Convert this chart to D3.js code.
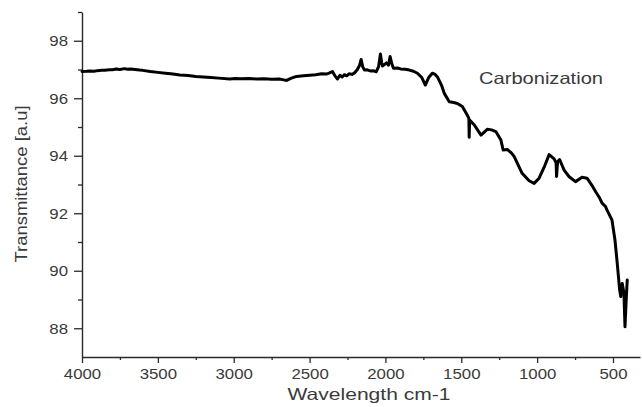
<!DOCTYPE html>
<html><head><meta charset="utf-8">
<script src="https://cdn.jsdelivr.net/npm/d3@7"></script>
<style>
html,body{margin:0;padding:0;background:#fff;}
svg{display:block;font-family:"Liberation Sans",Arial,Helvetica,sans-serif;}
</style></head>
<body>
<svg id="chart" width="642" height="407"></svg>
<script>
// Data
const wavenumber = [4000,3970,3950,3920,3900,3870,3850,3820,3800,3775,3750,3720,3700,3680,3650,3620,3600,3550,3500,3450,3400,3355,3300,3250,3200,3150,3100,3026,2990,2950,2900,2849,2800,2750,2700,2670,2651,2620,2586,2540,2500,2460,2420,2390,2368,2349,2330,2316,2300,2285,2270,2255,2240,2220,2204,2185,2170,2160,2150,2138,2120,2100,2080,2061,2045,2033,2025,2020,2005,1993,1980,1969,1958,1947,1920,1900,1870,1842,1815,1789,1760,1737,1715,1691,1675,1658,1630,1612,1579,1550,1526,1493,1461,1450,1448,1445,1414,1370,1329,1300,1272,1239,1224,1197,1170,1151,1099,1053,1020,987,950,921,888,875,872,865,852,822,789,747,704,671,640,614,590,572,550,539,507,487,472,456,449,439,428,421,412,406];
const transmittance = [96.93,96.94,96.95,96.94,96.96,96.97,96.97,96.99,96.99,97.02,97.00,97.03,97.01,97.02,97.00,96.98,96.97,96.93,96.90,96.87,96.84,96.81,96.79,96.76,96.74,96.72,96.70,96.67,96.69,96.68,96.69,96.67,96.68,96.66,96.67,96.64,96.62,96.70,96.76,96.78,96.80,96.82,96.85,96.84,96.88,96.93,96.76,96.67,96.80,96.74,96.82,96.78,96.85,96.83,96.88,97.00,97.15,97.35,97.10,96.98,96.99,96.95,96.96,96.92,97.10,97.54,97.25,97.12,97.18,97.23,97.15,97.45,97.20,97.04,97.05,97.02,97.01,96.98,96.94,96.87,96.72,96.46,96.72,96.87,96.84,96.75,96.45,96.17,95.88,95.85,95.82,95.71,95.42,95.30,94.64,95.24,95.07,94.72,94.92,94.90,94.84,94.55,94.20,94.22,94.10,93.97,93.39,93.13,93.04,93.22,93.65,94.04,93.89,93.75,93.28,93.80,93.87,93.50,93.27,93.10,93.25,93.22,92.98,92.75,92.55,92.35,92.24,92.11,91.77,91.07,90.26,89.33,89.10,89.56,89.23,88.05,89.10,89.68];
const xMajorTicks = [4000,3500,3000,2500,2000,1500,1000,500];
const xMinorTicks = [3750,3250,2750,2250,1750,1250,750];
const yMajorTicks = [88,90,92,94,96,98];
const yMinorTicks = [89,91,93,95,97,99];
const xTitle = "Wavelength cm-1";
const yTitle = "Transmittance [a.u]";
const annotation = "Carbonization";

const svg = d3.select("#chart");
const x = d3.scaleLinear().domain([4000, 322]).range([82, 640]);
const y = d3.scaleLinear().domain([87, 99]).range([357, 12]);
const axisColor = "#2a2a2a";
const textColor = "#3a3a3a";

function stretch(sel, factor, fixed) {
  sel.each(function() {
    const w = this.getComputedTextLength();
    d3.select(this).attr("textLength", fixed || w * factor).attr("lengthAdjust", "spacingAndGlyphs");
  });
}

// X axis
const gx = svg.append("g").attr("transform", `translate(0,${y(87)})`);
gx.call(d3.axisBottom(x).tickValues(xMajorTicks).tickSize(6).tickSizeOuter(0).tickFormat(d3.format("d")));
const gxm = svg.append("g").attr("transform", `translate(0,${y(87)})`);
gxm.call(d3.axisBottom(x).tickValues(xMinorTicks).tickSize(3).tickFormat(""));
gxm.select(".domain").remove();

// Y axis
const gy = svg.append("g").attr("transform", `translate(${x(4000)},0)`);
gy.call(d3.axisLeft(y).tickValues(yMajorTicks).tickSize(8).tickSizeOuter(0).tickFormat(d3.format("d")));
const gym = svg.append("g").attr("transform", `translate(${x(4000)},0)`);
gym.call(d3.axisLeft(y).tickValues(yMinorTicks).tickSize(4).tickFormat(""));
gym.select(".domain").remove();

svg.selectAll(".domain").attr("stroke", axisColor).attr("stroke-width", 1.4);
svg.selectAll(".tick line").attr("stroke", axisColor).attr("stroke-width", 1.3);
svg.selectAll(".tick text").attr("fill", textColor).attr("font-size", 14)
  .attr("font-family", "Liberation Sans, Arial, sans-serif");
gx.selectAll(".tick text").attr("dy", "0").attr("y", 22);
gy.selectAll(".tick text").attr("x", -14).attr("dy", "0.36em");
stretch(svg.selectAll(".tick text"), 1.2);

// Spectrum line
const pts = wavenumber.map((w, i) => [w, transmittance[i]]);
svg.append("path").datum(pts)
  .attr("fill", "none").attr("stroke", "#000").attr("stroke-width", 3)
  .attr("stroke-linejoin", "round").attr("stroke-linecap", "round")
  .attr("d", d3.line().x(d => x(d[0])).y(d => y(d[1])));

// Titles
svg.append("text").attr("x", 369).attr("y", 400).attr("text-anchor", "middle")
  .attr("font-size", 16.5).attr("fill", textColor).text(xTitle)
  .call(s => stretch(s, 1, 163));
svg.append("text").attr("transform", "translate(27,184) rotate(-90)").attr("text-anchor", "middle")
  .attr("font-size", 17).attr("fill", textColor).text(yTitle)
  .call(s => stretch(s, 1, 157));
svg.append("text").attr("x", 479).attr("y", 84)
  .attr("font-size", 16.5).attr("fill", textColor).text(annotation)
  .call(s => stretch(s, 1, 124));
</script>
</body></html>
